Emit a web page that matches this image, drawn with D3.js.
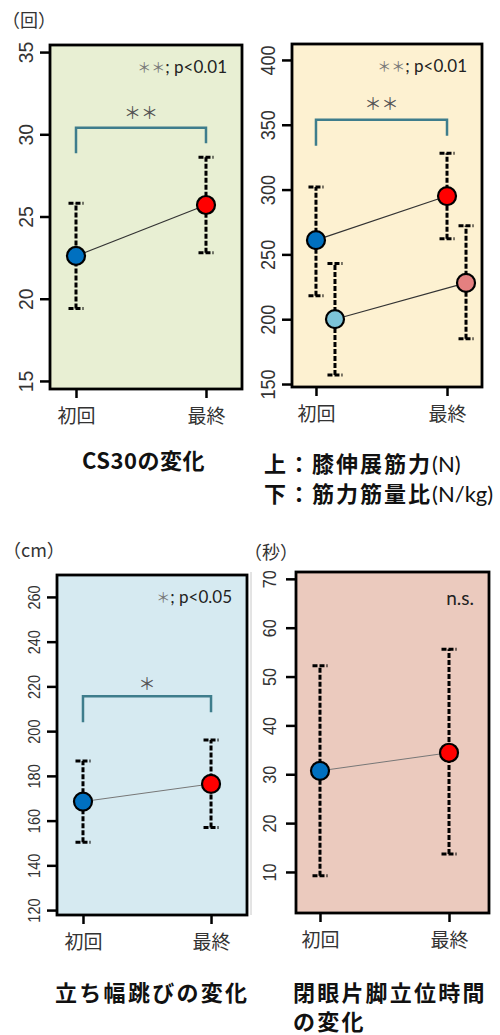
<!DOCTYPE html>
<html>
<head>
<meta charset="utf-8">
<script src="https://cdn.jsdelivr.net/npm/d3@7"></script>
<style>
  body { margin: 0; background: #fff; }
  svg { display: block; }
</style>
</head>
<body>
<div id="wrapper"></div>
<script>
// data
const categories = ["初回", "最終"]

const cs30Ticks = [15, 20, 25, 30, 35]
const cs30Mean = [22.6, 25.7]
const cs30Low = [19.4, 22.8]
const cs30High = [25.8, 28.6]
const cs30Bracket = [30.4, 28.85, 29.45]   // top, left end, right end

const kneeTicks = [150, 200, 250, 300, 350, 400]
const kneeMean = [261, 295]
const kneeLow = [218, 262]
const kneeHigh = [302, 328]
const ratioMean = [200, 228]
const ratioLow = [157, 185]
const ratioHigh = [243, 272]
const kneeBracket = [353.9, 333.8, 341.5]

const jumpTicks = [120, 140, 160, 180, 200, 220, 240, 260]
const jumpMean = [168.5, 176.4]
const jumpLow = [150.3, 156.9]
const jumpHigh = [186.7, 196]
const jumpBracket = [215.6, 204, 208.4]

const balanceTicks = [10, 20, 30, 40, 50, 60, 70]
const balanceMean = [30.7, 34.4]
const balanceLow = [9.2, 13.7]
const balanceHigh = [52.2, 55.6]

const blue = "#0070c0", red = "#ff0000", lightBlue = "#7cc3d8", pink = "#e48080"
const numFont = "'Liberation Sans', Arial, sans-serif"
const jpFont = "'Noto Sans CJK JP', sans-serif"
const noteFont = "Lato, 'Open Sans', sans-serif"

const panels = [
  {
    box: [50, 242, 45, 389], xDomain: [0.8, 2.277], yDomain: [14.51, 35.43],
    ticks: cs30Ticks, bg: "#e8efd3", labelGap: 24, tickFont: 21, squeeze: 0.92,
    series: [{ mean: cs30Mean, low: cs30Low, high: cs30High, colors: [blue, red], shift: 0 }],
    link: { color: "#333", width: 1.2 },
    bracket: cs30Bracket, stars: "＊＊", starGap: 16,
    note: ["＊＊", "; p<0.01"], unit: "（回）", unitPos: [2, 20],
    title: [["CS30の変化", ""]], titlePos: [82, 469], spacing: 0.5, lineGap: 30
  },
  {
    box: [292, 482, 44, 387], xDomain: [0.817, 2.267], yDomain: [147.7, 412.3],
    ticks: kneeTicks, bg: "#fdf1d1", labelGap: 24.5, tickFont: 21, squeeze: 0.86,
    series: [
      { mean: kneeMean, low: kneeLow, high: kneeHigh, colors: [blue, red], shift: 0 },
      { mean: ratioMean, low: ratioLow, high: ratioHigh, colors: [lightBlue, pink], shift: 0.145 }
    ],
    link: { color: "#333", width: 1.2 },
    bracket: kneeBracket, stars: "＊＊", starGap: 17,
    note: ["＊＊", "; p<0.01"], unit: null,
    title: [["上：膝伸展筋力", "(N)"], ["下：筋力筋量比", "(N/kg)"]], titlePos: [264, 472], spacing: 2, lineGap: 29.5
  },
  {
    box: [57, 247, 575, 915], xDomain: [0.797, 2.281], yDomain: [117.8, 269.8],
    ticks: jumpTicks, bg: "#d6eaf1", labelGap: 23, tickFont: 17, squeeze: 0.85,
    series: [{ mean: jumpMean, low: jumpLow, high: jumpHigh, colors: [blue, red], shift: 0 }],
    link: { color: "#777", width: 1 },
    bracket: jumpBracket, stars: "＊", starGap: 13,
    note: ["＊", "; p<0.05"], unit: "（cm）", unitPos: [3, 550],
    title: [["立ち幅跳びの変化", ""]], titlePos: [55, 1001], spacing: 2.3, lineGap: 30
  },
  {
    box: [296, 489, 572, 913], xDomain: [0.814, 2.31], yDomain: [1.6, 71.4],
    ticks: balanceTicks, bg: "#ebcabe", labelGap: 26, tickFont: 18, squeeze: 0.9,
    series: [{ mean: balanceMean, low: balanceLow, high: balanceHigh, colors: [blue, red], shift: 0 }],
    link: { color: "#777", width: 1 },
    bracket: null, note: [null, "n.s."], unit: "（秒）", unitPos: [244, 552],
    title: [["閉眼片脚立位時間", ""], ["の変化", ""]], titlePos: [293, 1001], spacing: 2.2, lineGap: 29
  }
]

const svg = d3.select("#wrapper")
  .append("svg")
  .attr("width", 500)
  .attr("height", 1035)

// thin grey edge left of the last panel
svg.append("line")
  .attr("x1", 251).attr("x2", 251)
  .attr("y1", 572).attr("y2", 915)
  .attr("stroke", "#c8c8c8")
  .attr("stroke-width", 1)

panels.forEach(p => {
  const [x0, x1, y0, y1] = p.box
  const x = d3.scaleLinear().domain(p.xDomain).range([x0, x1])
  const y = d3.scaleLinear().domain(p.yDomain).range([y1, y0])

  const g = svg.append("g")

  g.append("rect")
    .attr("x", x0).attr("y", y0)
    .attr("width", x1 - x0).attr("height", y1 - y0)
    .attr("fill", p.bg)

  // y axis, labels turned like R
  const yAxis = g.append("g")
    .attr("transform", `translate(${x0},0)`)
    .call(d3.axisLeft(y).tickValues(p.ticks).tickSize(10).tickSizeOuter(0))
  yAxis.select(".domain").remove()
  yAxis.selectAll("line").attr("stroke", "#000").attr("stroke-width", 2.5)
  yAxis.selectAll("text")
    .attr("x", 0)
    .attr("y", -p.labelGap)
    .attr("dy", "0.35em")
    .attr("transform", `rotate(-90) scale(${p.squeeze},1)`)
    .attr("text-anchor", "middle")
    .attr("fill", "#333")
    .attr("font-family", numFont)
    .attr("font-size", p.tickFont)

  const xAxis = g.append("g")
    .attr("transform", `translate(0,${y1})`)
    .call(d3.axisBottom(x).tickValues([1, 2]).tickFormat((d, i) => categories[i]).tickSize(9).tickSizeOuter(0))
  xAxis.select(".domain").remove()
  xAxis.selectAll("line").attr("stroke", "#000").attr("stroke-width", 2.5)
  xAxis.selectAll("text")
    .attr("y", 27)
    .attr("dy", "0.38em")
    .attr("fill", "#333")
    .attr("font-family", jpFont)
    .attr("font-size", 19)

  // bracket with stars
  if (p.bracket) {
    const [top, leftEnd, rightEnd] = p.bracket
    const path = d3.path()
    path.moveTo(x(1), y(leftEnd))
    path.lineTo(x(1), y(top))
    path.lineTo(x(2), y(top))
    path.lineTo(x(2), y(rightEnd))
    g.append("path")
      .attr("d", path.toString())
      .attr("fill", "none")
      .attr("stroke", "#3e7d8c")
      .attr("stroke-width", 2.5)
    g.append("text")
      .attr("x", (x(1) + x(2)) / 2)
      .attr("y", y(top) - p.starGap)
      .attr("dy", "0.4em")
      .attr("text-anchor", "middle")
      .attr("font-family", jpFont)
      .attr("font-size", 17)
      .attr("fill", "#555")
      .text(p.stars)
  }

  // note in the upper right corner
  const note = g.append("text")
    .attr("x", x1 - 15)
    .attr("y", y0 + (p.note[0] ? 28 : 33))
    .attr("text-anchor", "end")
    .attr("fill", "#222")
  if (p.note[0]) {
    note.append("tspan")
      .attr("font-family", jpFont)
      .attr("font-size", 14)
      .attr("fill", "#777")
      .attr("dy", "-0.1em")
      .text(p.note[0])
  }
  note.append("tspan")
    .attr("font-family", noteFont)
    .attr("font-size", p.note[0] ? 17 : 19)
    .attr("dy", p.note[0] ? "0.1em" : 0)
    .text(p.note[1])

  // series: line, error bars, points
  p.series.forEach(s => {
    const pts = categories.map((c, i) => ({
      cx: x(i + 1 + s.shift), mean: s.mean[i], low: s.low[i], high: s.high[i], color: s.colors[i]
    }))

    g.append("path")
      .attr("d", d3.line().x(d => d.cx).y(d => y(d.mean))(pts))
      .attr("fill", "none")
      .attr("stroke", p.link.color)
      .attr("stroke-width", p.link.width)

    const bars = g.append("g")
      .attr("stroke", "#000")
      .attr("stroke-width", 3)
      .attr("stroke-dasharray", "5,2")

    bars.selectAll(".stem")
      .data(pts)
      .join("line")
      .attr("class", "stem")
      .attr("x1", d => d.cx).attr("x2", d => d.cx)
      .attr("y1", d => y(d.low)).attr("y2", d => y(d.high))

    bars.selectAll(".cap")
      .data(pts.flatMap(d => [{ cx: d.cx, v: d.low }, { cx: d.cx, v: d.high }]))
      .join("line")
      .attr("class", "cap")
      .attr("x1", d => d.cx - 7.5).attr("x2", d => d.cx + 7.5)
      .attr("y1", d => y(d.v)).attr("y2", d => y(d.v))

    g.selectAll(null)
      .data(pts)
      .join("circle")
      .attr("cx", d => d.cx)
      .attr("cy", d => y(d.mean))
      .attr("r", 9)
      .attr("fill", d => d.color)
      .attr("stroke", "#000")
      .attr("stroke-width", 2.2)
  })

  g.append("rect")
    .attr("x", x0).attr("y", y0)
    .attr("width", x1 - x0).attr("height", y1 - y0)
    .attr("fill", "none")
    .attr("stroke", "#000")
    .attr("stroke-width", 2.8)

  if (p.unit) {
    svg.append("text")
      .attr("x", p.unitPos[0])
      .attr("y", p.unitPos[1])
      .attr("dy", "0.38em")
      .attr("font-family", jpFont)
      .attr("font-size", 18)
      .attr("fill", "#333")
      .text(p.unit)
  }

  p.title.forEach(([t, tail], i) => {
    const line = svg.append("text")
      .attr("x", p.titlePos[0])
      .attr("y", p.titlePos[1] + i * p.lineGap)
      .attr("font-size", 22)
      .attr("fill", "#111")
    line.append("tspan")
      .attr("font-family", jpFont)
      .attr("font-weight", "bold")
      .attr("letter-spacing", p.spacing)
      .text(t)
    if (tail) {
      line.append("tspan")
        .attr("font-family", noteFont)
        .attr("font-size", 22)
        .text(tail)
    }
  })
})
</script>
</body>
</html>
